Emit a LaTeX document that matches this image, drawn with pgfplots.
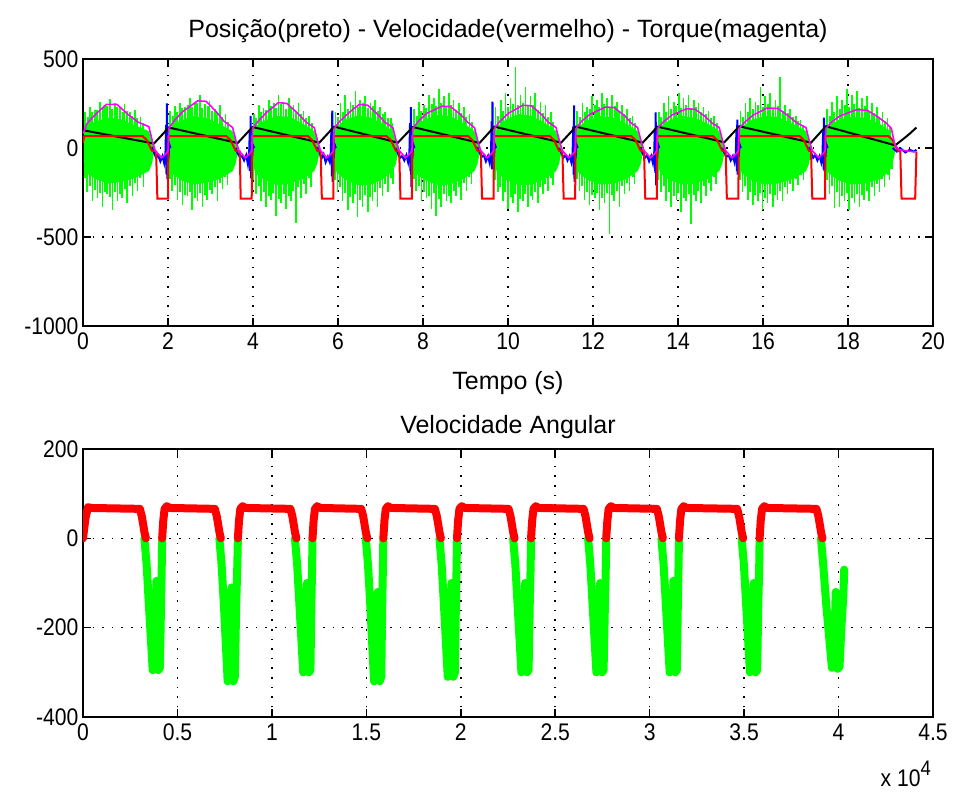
\documentclass[border=0pt]{standalone}
\usepackage{fontspec}
\setmainfont{Liberation Sans}
\newfontfamily\tickfont[FakeStretch=0.88]{Liberation Sans}
\usepackage{pgfplots}
\pgfplotsset{compat=1.18}
\definecolor{mg}{RGB}{0,255,0}
\definecolor{mr}{RGB}{255,0,0}
\definecolor{mb}{RGB}{0,0,255}
\definecolor{mm}{RGB}{255,0,255}
\newcommand\tl{\tickfont\fontsize{24bp}{29bp}\selectfont}
\newcommand\tf{\fontsize{25bp}{30bp}\selectfont}
\pgfplotsset{
  mat/.style={
    scale only axis, anchor=south west, width=850bp,
    grid=major,
    major grid style={black, line width=1.6bp, dash pattern=on 1.6bp off 8bp},
    tick align=inside, major tick length=8bp,
    axis line style={line width=1.6bp},
    every tick/.style={black, line width=1.6bp},
    tick label style={font=\tl},
    xticklabel style={yshift=-3bp},
    yticklabel style={xshift=-1bp},
    unbounded coords=jump,
  }
}
\begin{document}
\begin{tikzpicture}
\useasboundingbox (0,0) rectangle (953bp,792bp);
\begin{axis}[mat, at={(83bp,466bp)}, height=267bp,
  xmin=0, xmax=20, ymin=-1000, ymax=500,
  xtick={0,2,4,6,8,10,12,14,16,18,20},
  xticklabels={0,2,4,6,8,10,12,14,16,18,20},
  ytick={-1000,-500,0,500}, yticklabels={-1000,-500,0,500}]
% green core
\addplot[draw=none, fill=mg] coordinates {(0.02,50)(0.08,120)(0.3,150)(0.6,170)(0.9,160)(1.2,130)(1.55,95)(1.62,40)(1.67,10)(1.67,-30)(1.62,-90)(1.55,-130)(1.2,-170)(0.9,-190)(0.6,-200)(0.3,-175)(0.08,-140)(0.02,-80)} -- cycle;
\addplot[draw=none, fill=mg] coordinates {(2.02,50)(2.08,120)(2.3,155)(2.6,180)(2.9,170)(3.2,135)(3.52,95)(3.59,40)(3.64,10)(3.64,-30)(3.59,-90)(3.52,-130)(3.2,-175)(2.9,-195)(2.6,-205)(2.3,-180)(2.08,-140)(2.02,-80)} -- cycle;
\addplot[draw=none, fill=mg] coordinates {(3.99,50)(4.05,120)(4.27,155)(4.57,180)(4.87,175)(5.17,135)(5.44,95)(5.51,40)(5.56,10)(5.56,-30)(5.51,-90)(5.44,-130)(5.17,-175)(4.87,-200)(4.57,-210)(4.27,-180)(4.05,-140)(3.99,-80)} -- cycle;
\addplot[draw=none, fill=mg] coordinates {(5.91,50)(5.97,120)(6.19,160)(6.49,185)(6.79,170)(7.05,135)(7.29,95)(7.36,40)(7.41,10)(7.41,-30)(7.36,-90)(7.29,-130)(7.05,-175)(6.79,-205)(6.49,-210)(6.19,-180)(5.97,-140)(5.91,-80)} -- cycle;
\addplot[draw=none, fill=mg] coordinates {(7.76,50)(7.82,120)(8.04,160)(8.34,185)(8.64,180)(8.94,140)(9.21,95)(9.28,40)(9.33,10)(9.33,-30)(9.28,-90)(9.21,-130)(8.94,-175)(8.64,-205)(8.34,-210)(8.04,-180)(7.82,-140)(7.76,-80)} -- cycle;
\addplot[draw=none, fill=mg] coordinates {(9.68,50)(9.74,120)(9.96,160)(10.26,190)(10.56,180)(10.86,140)(11.13,95)(11.20,40)(11.25,10)(11.25,-30)(11.20,-90)(11.13,-130)(10.86,-175)(10.56,-205)(10.26,-210)(9.96,-180)(9.74,-140)(9.68,-80)} -- cycle;
\addplot[draw=none, fill=mg] coordinates {(11.60,50)(11.66,120)(11.88,155)(12.18,180)(12.48,170)(12.78,135)(13.05,95)(13.12,40)(13.17,10)(13.17,-30)(13.12,-90)(13.05,-130)(12.78,-175)(12.48,-200)(12.18,-205)(11.88,-180)(11.66,-140)(11.60,-80)} -- cycle;
\addplot[draw=none, fill=mg] coordinates {(13.52,50)(13.58,120)(13.80,155)(14.10,180)(14.40,170)(14.70,135)(14.97,95)(15.04,40)(15.09,10)(15.09,-30)(15.04,-90)(14.97,-130)(14.70,-175)(14.40,-200)(14.10,-205)(13.80,-180)(13.58,-140)(13.52,-80)} -- cycle;
\addplot[draw=none, fill=mg] coordinates {(15.44,50)(15.50,120)(15.72,155)(16.02,180)(16.35,175)(16.70,135)(17.01,95)(17.08,40)(17.13,10)(17.13,-30)(17.08,-90)(17.01,-130)(16.70,-175)(16.35,-200)(16.02,-205)(15.72,-180)(15.50,-140)(15.44,-80)} -- cycle;
\addplot[draw=none, fill=mg] coordinates {(17.48,50)(17.54,120)(17.76,155)(18.06,175)(18.40,170)(18.75,135)(18.98,95)(19.05,40)(19.10,10)(19.10,-30)(19.05,-90)(18.98,-130)(18.75,-175)(18.40,-200)(18.06,-205)(17.76,-180)(17.54,-140)(17.48,-80)} -- cycle;
% green short spikes
\addplot[ycomb, mg, line width=2bp, mark=none] coordinates {
(0.11,175)(0.22,200)(0.34,215)(0.46,225)(0.57,235)(0.69,220)(0.81,230)(0.93,205)(1.04,210)(1.16,180)(1.28,170)(1.41,140)
(0.04,-170)(0.16,-215)(0.28,-235)(0.40,-255)(0.51,-245)(0.63,-275)(0.75,-250)(0.87,-260)(0.98,-230)(1.10,-215)(1.22,-195)(1.35,-170)
(2.11,180)(2.22,205)(2.34,225)(2.46,240)(2.57,230)(2.69,250)(2.81,225)(2.93,235)(3.04,210)(3.16,195)(3.28,175)(3.41,145)
(2.04,-175)(2.16,-210)(2.28,-245)(2.40,-265)(2.51,-250)(2.63,-280)(2.75,-255)(2.87,-265)(2.98,-235)(3.10,-220)(3.22,-195)(3.35,-165)
(4.08,170)(4.19,200)(4.31,215)(4.43,235)(4.54,225)(4.66,245)(4.78,220)(4.90,230)(5.01,205)(5.13,190)(5.25,170)(5.38,140)
(4.01,-180)(4.13,-215)(4.25,-250)(4.37,-270)(4.48,-255)(4.60,-285)(4.72,-260)(4.84,-270)(4.95,-240)(5.07,-220)(5.19,-200)(5.32,-170)
(6.00,175)(6.11,205)(6.23,220)(6.35,240)(6.46,230)(6.58,250)(6.70,225)(6.82,235)(6.93,210)(7.05,190)(7.17,170)(7.28,140)
(5.93,-180)(6.05,-220)(6.17,-255)(6.29,-275)(6.40,-260)(6.52,-290)(6.64,-265)(6.76,-275)(6.87,-245)(6.99,-225)(7.11,-200)(7.24,-170)
(7.85,180)(7.96,210)(8.08,225)(8.20,245)(8.31,235)(8.43,255)(8.55,230)(8.67,240)(8.78,215)(8.90,195)(9.02,175)(9.15,145)
(7.78,-175)(7.90,-215)(8.02,-250)(8.14,-270)(8.25,-255)(8.37,-285)(8.49,-260)(8.61,-270)(8.72,-240)(8.84,-220)(8.96,-195)(9.09,-165)
(9.77,180)(9.88,210)(10.00,230)(10.12,245)(10.23,240)(10.35,255)(10.47,235)(10.59,240)(10.70,215)(10.82,195)(10.94,175)(11.07,145)
(9.70,-180)(9.82,-220)(9.94,-250)(10.06,-275)(10.17,-260)(10.29,-285)(10.41,-260)(10.53,-270)(10.64,-245)(10.76,-220)(10.88,-200)(11.01,-170)
(11.69,175)(11.80,205)(11.92,220)(12.04,240)(12.15,230)(12.27,245)(12.39,225)(12.51,235)(12.62,210)(12.74,190)(12.86,170)(12.99,140)
(11.62,-175)(11.74,-215)(11.86,-245)(11.98,-265)(12.09,-255)(12.21,-280)(12.33,-255)(12.45,-265)(12.56,-240)(12.68,-215)(12.80,-195)(12.93,-165)
(13.61,175)(13.72,200)(13.84,220)(13.96,235)(14.07,225)(14.19,240)(14.31,220)(14.43,230)(14.54,205)(14.66,190)(14.78,170)(14.91,140)
(13.54,-180)(13.66,-215)(13.78,-245)(13.90,-270)(14.01,-255)(14.13,-280)(14.25,-260)(14.37,-265)(14.48,-240)(14.60,-215)(14.72,-195)(14.85,-165)
(15.53,175)(15.64,205)(15.76,220)(15.88,240)(15.99,230)(16.11,245)(16.23,225)(16.35,235)(16.46,210)(16.58,195)(16.70,175)(16.83,150)(16.94,130)
(15.46,-180)(15.58,-215)(15.70,-245)(15.82,-265)(15.93,-255)(16.05,-280)(16.17,-260)(16.29,-265)(16.40,-240)(16.52,-220)(16.64,-200)(16.77,-175)(16.90,-150)
(17.57,180)(17.68,205)(17.80,220)(17.92,240)(18.03,230)(18.15,245)(18.27,225)(18.39,235)(18.50,210)(18.62,195)(18.74,175)(18.87,150)(18.99,120)
(17.50,-180)(17.62,-215)(17.74,-250)(17.86,-270)(17.97,-255)(18.09,-280)(18.21,-260)(18.33,-265)(18.44,-240)(18.56,-220)(18.68,-200)(18.81,-175)(18.94,-150)(19.03,-120)
};
% green long spikes
\addplot[ycomb, mg, line width=1.6bp, mark=none] coordinates {
(0.05,200)(0.17,230)(0.28,215)(0.40,260)(0.52,240)(0.63,275)(0.75,250)(0.87,230)(0.98,245)(1.10,200)(1.22,215)(1.35,175)
(0.10,-250)(0.22,-300)(0.34,-280)(0.46,-330)(0.57,-260)(0.69,-350)(0.81,-300)(0.92,-280)(1.04,-310)(1.16,-270)(1.28,-240)(1.42,-220)
(2.05,210)(2.17,235)(2.28,250)(2.40,230)(2.52,280)(2.63,255)(2.75,300)(2.87,245)(2.98,265)(3.10,220)(3.22,240)(3.35,190)
(2.10,-240)(2.22,-290)(2.34,-320)(2.46,-270)(2.57,-350)(2.69,-300)(2.81,-330)(2.92,-290)(3.04,-260)(3.16,-300)(3.28,-230)(3.40,-210)
(4.02,190)(4.14,240)(4.25,225)(4.37,270)(4.49,250)(4.60,300)(4.72,260)(4.84,280)(4.95,240)(5.07,255)(5.19,210)(5.32,180)
(4.07,-260)(4.19,-300)(4.31,-330)(4.43,-290)(4.54,-380)(4.66,-310)(4.78,-340)(4.89,-300)(5.01,-420)(5.13,-280)(5.25,-260)(5.37,-220)
(5.94,200)(6.06,250)(6.17,300)(6.29,260)(6.41,320)(6.52,270)(6.64,290)(6.76,250)(6.87,270)(6.99,230)(7.11,200)(7.24,170)
(5.99,-250)(6.11,-300)(6.23,-350)(6.35,-310)(6.46,-390)(6.58,-330)(6.70,-360)(6.81,-300)(6.93,-330)(7.05,-270)(7.17,-250)(7.29,-200)
(7.79,220)(7.91,260)(8.02,240)(8.14,300)(8.26,280)(8.37,330)(8.49,290)(8.61,310)(8.72,270)(8.84,250)(8.96,230)(9.09,190)
(7.84,-240)(7.96,-300)(8.08,-280)(8.20,-340)(8.31,-380)(8.43,-330)(8.55,-300)(8.66,-310)(8.78,-270)(8.90,-290)(9.02,-240)(9.14,-200)
(9.71,230)(9.83,270)(9.94,310)(10.06,280)(10.18,455)(10.29,300)(10.41,340)(10.53,290)(10.64,310)(10.76,260)(10.88,240)(11.01,200)
(9.76,-250)(9.88,-300)(10.00,-340)(10.12,-310)(10.23,-360)(10.35,-300)(10.47,-330)(10.58,-290)(10.70,-310)(10.82,-260)(10.94,-240)(11.06,-210)
(11.63,210)(11.75,250)(11.86,230)(11.98,290)(12.10,270)(12.21,310)(12.33,280)(12.45,300)(12.56,260)(12.68,240)(12.80,220)(12.93,180)
(11.68,-240)(11.80,-290)(11.92,-320)(12.04,-280)(12.15,-350)(12.27,-310)(12.39,-485)(12.50,-300)(12.62,-330)(12.74,-260)(12.86,-240)(12.98,-200)
(13.55,200)(13.67,250)(13.78,290)(13.90,260)(14.02,310)(14.13,280)(14.25,300)(14.37,270)(14.48,250)(14.60,230)(14.72,210)(14.85,180)
(13.60,-250)(13.72,-300)(13.84,-330)(13.96,-290)(14.07,-360)(14.19,-300)(14.31,-425)(14.42,-300)(14.54,-310)(14.66,-270)(14.78,-240)(14.90,-200)
(15.47,210)(15.59,250)(15.70,280)(15.82,260)(15.94,340)(16.05,290)(16.17,310)(16.29,270)(16.40,400)(16.52,240)(16.64,220)(16.77,180)(16.88,160)
(15.52,-250)(15.64,-290)(15.76,-320)(15.88,-300)(15.99,-350)(16.11,-310)(16.23,-330)(16.34,-290)(16.46,-300)(16.58,-260)(16.70,-240)(16.82,-210)(16.95,-180)
(17.51,220)(17.63,260)(17.74,290)(17.86,270)(17.98,330)(18.09,300)(18.21,320)(18.33,280)(18.44,290)(18.56,250)(18.68,230)(18.81,200)(18.93,170)
(17.56,-260)(17.68,-335)(17.80,-330)(17.92,-300)(18.03,-350)(18.15,-310)(18.27,-330)(18.38,-290)(18.50,-300)(18.62,-270)(18.74,-250)(18.86,-220)(18.98,-180)
};
% blue
\addplot[mb, line width=2bp, mark=none] coordinates {
(1.62,5)(1.67,-25)(1.72,-55)(1.77,-40)(1.82,-75)(1.87,-45)(1.91,-85)(1.94,-30)(1.955,130)(1.965,-150)(1.975,250)(1.985,-175)(1.995,90)(2.01,-60)(2.03,20)(2.06,0)(2.07,nan)
(3.59,0)(3.64,-30)(3.69,-50)(3.74,-45)(3.79,-70)(3.84,-40)(3.88,-90)(3.91,-20)(3.925,100)(3.935,-130)(3.945,180)(3.955,-170)(3.965,70)(3.98,-50)(4.00,15)(4.03,0)(4.04,nan)
(5.51,5)(5.56,-20)(5.61,-60)(5.66,-35)(5.71,-80)(5.76,-50)(5.80,-75)(5.83,-25)(5.845,110)(5.855,-160)(5.865,210)(5.875,-190)(5.885,80)(5.90,-55)(5.92,20)(5.95,0)(5.96,nan)
(7.36,0)(7.41,-30)(7.46,-55)(7.51,-45)(7.56,-70)(7.61,-40)(7.65,-80)(7.68,-30)(7.695,140)(7.705,-130)(7.715,230)(7.725,-220)(7.735,100)(7.75,-60)(7.77,20)(7.80,0)(7.81,nan)
(9.28,5)(9.33,-25)(9.38,-50)(9.43,-40)(9.48,-75)(9.53,-45)(9.57,-85)(9.60,-30)(9.615,150)(9.625,-120)(9.635,260)(9.645,-90)(9.655,80)(9.67,-50)(9.69,20)(9.72,0)(9.73,nan)
(11.20,0)(11.25,-25)(11.30,-55)(11.35,-40)(11.40,-70)(11.45,-45)(11.49,-80)(11.52,-30)(11.535,120)(11.545,-150)(11.555,240)(11.565,-190)(11.575,90)(11.59,-60)(11.61,20)(11.64,0)(11.65,nan)
(13.12,5)(13.17,-30)(13.22,-55)(13.27,-40)(13.32,-75)(13.37,-45)(13.41,-85)(13.44,-30)(13.455,110)(13.465,-140)(13.475,200)(13.485,-210)(13.495,80)(13.51,-60)(13.53,20)(13.56,0)(13.57,nan)
(15.04,0)(15.09,-25)(15.14,-50)(15.19,-40)(15.24,-70)(15.29,-45)(15.33,-80)(15.36,-30)(15.375,100)(15.385,-130)(15.395,160)(15.405,-150)(15.415,70)(15.43,-50)(15.45,20)(15.48,0)(15.49,nan)
(17.08,5)(17.13,-25)(17.18,-55)(17.23,-40)(17.28,-70)(17.33,-45)(17.37,-80)(17.40,-30)(17.415,90)(17.425,-120)(17.435,170)(17.445,-130)(17.455,60)(17.47,-50)(17.49,20)(17.52,0)(17.53,nan)
(19.05,0)(19.15,-20)(19.25,-5)(19.35,-25)(19.45,-10)(19.55,-20)(19.61,-10)
};
% black (position)
\addplot[black, line width=2bp, mark=none] coordinates {
(0,100)(1.67,25)(2.02,115)(3.64,28)(3.99,118)(5.56,30)(5.91,120)(7.41,30)(7.76,118)(9.33,28)(9.68,120)(11.25,30)(11.60,120)(13.17,30)(13.52,120)(15.09,32)(15.44,122)(17.13,30)(17.48,122)(19.11,15)(19.35,60)(19.45,80)(19.61,115)
};
% red (velocity)
\addplot[mr, line width=2bp, mark=none] coordinates {
(0,30)(0.03,67)(1.40,67)(1.50,45)(1.62,-15)(1.72,-20)(1.75,-285)(2.00,-285)
(2.01,67)(3.37,67)(3.47,45)(3.59,-15)(3.69,-20)(3.71,-285)(3.97,-285)
(3.98,67)(5.29,67)(5.39,45)(5.51,-15)(5.59,-20)(5.62,-285)(5.89,-285)
(5.90,67)(7.14,67)(7.24,45)(7.36,-15)(7.44,-20)(7.47,-285)(7.74,-285)
(7.75,67)(9.06,67)(9.16,45)(9.28,-15)(9.36,-20)(9.39,-285)(9.66,-285)
(9.67,67)(10.98,67)(11.08,45)(11.20,-15)(11.28,-20)(11.31,-285)(11.58,-285)
(11.59,67)(12.90,67)(13.00,45)(13.12,-15)(13.20,-20)(13.23,-285)(13.50,-285)
(13.51,67)(14.82,67)(14.92,45)(15.04,-15)(15.12,-20)(15.15,-285)(15.42,-285)
(15.43,67)(16.86,67)(16.96,45)(17.08,-15)(17.13,-20)(17.16,-285)(17.46,-285)
(17.47,67)(18.95,67)(19.05,45)(19.17,-15)(19.23,-20)(19.26,-285)(19.58,-285)(19.61,-20)
};
% magenta (torque)
\addplot[mm, line width=1.6bp, mark=none] coordinates {
(0.0,80)(0.1,140)(0.3,190)(0.55,245)(0.8,245)(1.05,190)(1.3,145)(1.55,120)(1.64,30)(1.70,-15)(1.85,-55)(1.96,-30)(2.00,-15)
(2.02,110)(2.15,155)(2.35,205)(2.7,265)(2.9,262)(3.15,200)(3.32,150)(3.52,115)(3.61,30)(3.67,-15)(3.82,-55)(3.93,-30)(3.97,-15)
(3.99,110)(4.12,150)(4.32,200)(4.6,255)(4.8,250)(5.05,195)(5.25,145)(5.44,115)(5.53,30)(5.59,-15)(5.74,-55)(5.85,-30)(5.89,-15)
(5.91,110)(6.04,150)(6.24,195)(6.5,245)(6.7,240)(6.95,185)(7.1,145)(7.29,115)(7.38,30)(7.44,-15)(7.59,-55)(7.70,-30)(7.74,-15)
(7.76,110)(7.89,150)(8.09,195)(8.45,235)(8.65,232)(8.9,185)(9.05,145)(9.21,115)(9.30,30)(9.36,-15)(9.51,-55)(9.62,-30)(9.66,-15)
(9.68,110)(9.81,150)(10.01,195)(10.35,240)(10.55,237)(10.8,185)(10.95,145)(11.13,115)(11.22,30)(11.28,-15)(11.43,-55)(11.54,-30)(11.58,-15)
(11.60,110)(11.73,150)(11.93,190)(12.3,230)(12.5,227)(12.75,180)(12.9,140)(13.05,115)(13.14,30)(13.20,-15)(13.35,-55)(13.46,-30)(13.50,-15)
(13.52,110)(13.65,145)(13.85,185)(14.2,220)(14.4,218)(14.65,175)(14.8,140)(14.97,115)(15.06,30)(15.12,-15)(15.27,-55)(15.38,-30)(15.42,-15)
(15.44,110)(15.57,145)(15.77,185)(16.1,225)(16.35,222)(16.6,180)(16.8,140)(17.01,115)(17.10,30)(17.16,-15)(17.31,-55)(17.42,-30)(17.46,-15)
(17.48,110)(17.61,145)(17.81,180)(18.2,215)(18.45,212)(18.7,175)(18.9,140)(19.02,110)(19.1,20)(19.2,-10)(19.35,-15)(19.5,-20)(19.61,-20)
};
\end{axis}
\begin{axis}[mat, at={(83bp,75bp)}, height=268bp,
  xmin=0, xmax=45000, ymin=-400, ymax=200,
  xtick={0,5000,10000,15000,20000,25000,30000,35000,40000,45000},
  xticklabels={0,0.5,1,1.5,2,2.5,3,3.5,4,4.5}, scaled x ticks=false,
  ytick={-400,-200,0,200}, yticklabels={-400,-200,0,200}]
\addplot[mg, line width=8bp, line join=round, line cap=round, mark=none] coordinates {
(3250,0)(3370,-60)(3490,-150)(3690,-295)(3790,-290)(3890,-95)(3990,-295)(4070,-290)(4130,-150)(4170,-60)(4190,0)(4191,nan)
(7220,0)(7340,-60)(7460,-150)(7660,-320)(7760,-315)(7860,-110)(7960,-320)(8040,-310)(8110,-150)(8170,-60)(8200,0)(8201,nan)
(11220,0)(11340,-60)(11460,-150)(11660,-300)(11760,-295)(11860,-100)(11960,-300)(12040,-295)(12090,-150)(12130,-60)(12150,0)(12151,nan)
(14970,0)(15090,-60)(15210,-150)(15410,-320)(15510,-315)(15610,-120)(15710,-320)(15790,-310)(15840,-150)(15880,-60)(15900,0)(15901,nan)
(18870,0)(18990,-60)(19110,-150)(19310,-310)(19410,-305)(19510,-100)(19610,-310)(19690,-300)(19740,-150)(19780,-60)(19800,0)(19801,nan)
(22770,0)(22890,-60)(23010,-150)(23210,-300)(23310,-295)(23410,-100)(23510,-300)(23590,-295)(23650,-150)(23700,-60)(23720,0)(23721,nan)
(26740,0)(26860,-60)(26980,-150)(27180,-300)(27280,-295)(27380,-100)(27480,-300)(27560,-295)(27630,-150)(27680,-60)(27700,0)(27701,nan)
(30620,0)(30740,-60)(30860,-150)(31060,-300)(31160,-295)(31260,-95)(31360,-300)(31440,-295)(31490,-150)(31530,-60)(31550,0)(31551,nan)
(34870,0)(34990,-60)(35110,-150)(35310,-300)(35410,-295)(35510,-100)(35610,-300)(35690,-295)(35750,-150)(35800,-60)(35820,0)(35821,nan)
(39070,0)(39190,-60)(39350,-150)(39650,-290)(39750,-285)(39850,-120)(39950,-292)(40050,-288)(40150,-200)(40250,-130)(40300,-70)
};
\addplot[mr, line width=8bp, line join=round, line cap=round, mark=none] coordinates {
(0,0)(130,45)(265,70)(400,68)(3010,66)(3110,50)(3190,30)(3260,12)(3330,0)(3331,nan)
(4190,0)(4250,40)(4320,66)(4440,72)(4590,68)(6980,66)(7080,50)(7160,30)(7230,12)(7300,0)(7301,nan)
(8200,0)(8260,40)(8330,66)(8450,72)(8600,68)(10980,66)(11080,50)(11160,30)(11230,12)(11300,0)(11301,nan)
(12150,0)(12210,40)(12280,66)(12400,72)(12550,68)(14730,66)(14830,50)(14910,30)(14980,12)(15050,0)(15051,nan)
(15900,0)(15960,40)(16030,66)(16150,72)(16300,68)(18630,66)(18730,50)(18810,30)(18880,12)(18950,0)(18951,nan)
(19800,0)(19860,40)(19930,66)(20050,72)(20200,68)(22530,66)(22630,50)(22710,30)(22780,12)(22850,0)(22851,nan)
(23720,0)(23780,40)(23850,66)(23970,72)(24120,68)(26500,66)(26600,50)(26680,30)(26750,12)(26820,0)(26821,nan)
(27700,0)(27760,40)(27830,66)(27950,72)(28100,68)(30380,66)(30480,50)(30560,30)(30630,12)(30700,0)(30701,nan)
(31550,0)(31610,40)(31680,66)(31800,72)(31950,68)(34630,66)(34730,50)(34810,30)(34880,12)(34950,0)(34951,nan)
(35820,0)(35880,40)(35950,66)(36070,72)(36220,68)(38830,66)(38930,50)(39010,30)(39080,12)(39150,0)
};
\end{axis}
\node[anchor=base, font=\tf] at (508bp,754bp) {Posição(preto) - Velocidade(vermelho) - Torque(magenta)};
\node[anchor=base, font=\tf] at (508bp,402bp) {Tempo (s)};
\node[anchor=base, font=\tf] at (508bp,358bp) {Velocidade Angular};
\node[anchor=base east, font=\tl, inner sep=0pt] at (931bp,6bp) {x 10\raisebox{11bp}{\fontsize{21bp}{24bp}\selectfont 4}};
\end{tikzpicture}
\end{document}
